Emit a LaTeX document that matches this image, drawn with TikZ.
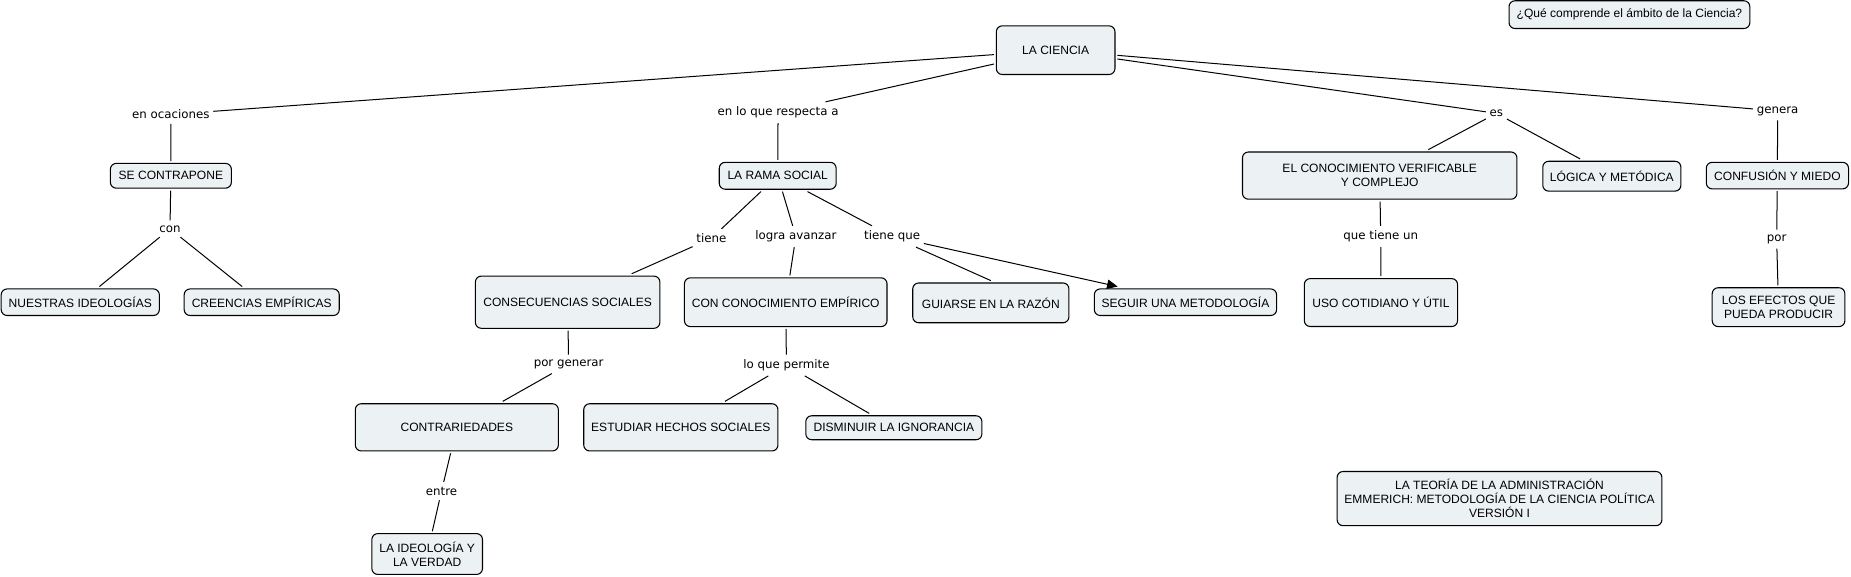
\documentclass[tikz,border=0pt]{standalone}
\usepackage{fontspec}
\setmainfont{Liberation Sans}
\newfontfamily\linkfont{DejaVu Sans}
\usetikzlibrary{arrows.meta}
\definecolor{cfill}{HTML}{ECF2F4}
\tikzset{
  concept/.style={draw=black, line width=0.9pt, fill=cfill, rounded corners=5pt,
    inner sep=0pt, outer sep=2pt, align=center,
    font=\fontsize{10.2}{11.8}\selectfont},
  linkp/.style={inner xsep=3pt, inner ysep=4pt, font=\linkfont\fontsize{10}{12}\selectfont},
  conn/.style={line width=0.85pt},
  tip/.style={-{Triangle[length=9pt,width=8pt]}},
}
\begin{document}
\begin{tikzpicture}[x=1pt,y=-1pt]
\useasboundingbox (0,0) rectangle (1568,488);
% concepts
\node[concept, minimum width=100.5pt, minimum height=41.2pt] (ciencia) at (894.25,42.5) {LA CIENCIA};
\node[concept, minimum width=204pt, minimum height=23.5pt] (pregunta) at (1380.3,12.4) {¿Qué comprende el ámbito de la Ciencia?};
\node[concept, minimum width=102.5pt, minimum height=21pt] (secontra) at (144.75,148.9) {SE CONTRAPONE};
\node[concept, minimum width=134pt, minimum height=22.5pt] (nuestras) at (68,256) {NUESTRAS IDEOLOGÍAS};
\node[concept, minimum width=131.4pt, minimum height=22.5pt] (creencias) at (221.7,256) {CREENCIAS EMPÍRICAS};
\node[concept, minimum width=99pt, minimum height=22.8pt] (rama) at (658.8,148.9) {LA RAMA SOCIAL};
\node[concept, minimum width=156.3pt, minimum height=44.2pt] (consec) at (480.85,256) {CONSECUENCIAS SOCIALES};
\node[concept, minimum width=171.6pt, minimum height=41.3pt] (conconoc) at (665.6,256) {CON CONOCIMIENTO EMPÍRICO};
\node[concept, minimum width=132.3pt, minimum height=33.7pt] (guiarse) at (839.35,256.55) {GUIARSE EN LA RAZÓN};
\node[concept, minimum width=154.4pt, minimum height=22.5pt] (seguir) at (1004.2,256) {SEGUIR UNA METODOLOGÍA};
\node[concept, minimum width=172pt, minimum height=40pt] (contra) at (387,362) {CONTRARIEDADES};
\node[concept, minimum width=164.5pt, minimum height=40pt] (estudiar) at (576.75,362) {ESTUDIAR HECHOS SOCIALES};
\node[concept, minimum width=149.2pt, minimum height=20.3pt] (disminuir) at (757.2,362.35) {DISMINUIR LA IGNORANCIA};
\node[concept, minimum width=93.7pt, minimum height=34.6pt] (ideologia) at (361.85,469.3) {LA IDEOLOGÍA Y\\LA VERDAD};
\node[concept, minimum width=232.5pt, minimum height=40pt] (elconoc) at (1168.75,148.75) {EL CONOCIMIENTO VERIFICABLE\\Y COMPLEJO};
\node[concept, minimum width=117pt, minimum height=25.3pt] (logica) at (1365.4,149.25) {LÓGICA Y METÓDICA};
\node[concept, minimum width=120.5pt, minimum height=22.5pt] (confusion) at (1505.65,148.75) {CONFUSIÓN Y MIEDO};
\node[concept, minimum width=129.8pt, minimum height=40.6pt] (uso) at (1169.8,256.3) {USO COTIDIANO Y ÚTIL};
\node[concept, minimum width=112.4pt, minimum height=32.9pt] (efectos) at (1506.6,260.2) {LOS EFECTOS QUE\\PUEDA PRODUCIR};
\node[concept, minimum width=275.1pt, minimum height=45.9pt] (teoria) at (1270.25,422.35) {LA TEORÍA DE LA ADMINISTRACIÓN\\EMMERICH: METODOLOGÍA DE LA CIENCIA POLÍTICA\\VERSIÓN I};
% linking phrases
\node[linkp] (enoc) at (144.7,96.9) {en ocaciones};
\node[linkp] (con) at (144,193.8) {con};
\node[linkp] (enlo) at (659.1,95.3) {en lo que respecta a};
\node[linkp] (tiene) at (602.6,201.9) {tiene};
\node[linkp] (logra) at (674.2,200.3) {logra avanzar};
\node[linkp] (tieneque) at (755.7,200.3) {tiene que};
\node[linkp] (porgen) at (481.7,308.4) {por generar};
\node[linkp] (loqueperm) at (666.2,309.4) {lo que permite};
\node[linkp] (entre) at (374,416) {entre};
\node[linkp] (es) at (1267.6,96) {es};
\node[linkp] (genera) at (1505.8,94) {genera};
\node[linkp] (quetiene) at (1169.6,200.3) {que tiene un};
\node[linkp] (por) at (1505,202.5) {por};
% connectors
\draw[conn] (ciencia) -- (enoc);
\draw[conn] (enoc) -- (secontra);
\draw[conn] (secontra) -- (con);
\draw[conn] (con) -- (nuestras);
\draw[conn] (con) -- (creencias);
\draw[conn] (ciencia) -- (enlo);
\draw[conn] (enlo) -- (rama);
\draw[conn] (rama) -- (tiene);
\draw[conn] (tiene) -- (consec);
\draw[conn] (rama) -- (logra);
\draw[conn] (logra) -- (conconoc);
\draw[conn] (rama) -- (tieneque);
\draw[conn] (tieneque) -- (guiarse.north);
\draw[conn, tip] (tieneque) -- (seguir.167);
\draw[conn] (consec) -- (porgen);
\draw[conn] (porgen) -- (contra);
\draw[conn] (contra) -- (entre);
\draw[conn] (entre) -- (ideologia);
\draw[conn] (conconoc) -- (loqueperm);
\draw[conn] (loqueperm) -- (estudiar);
\draw[conn] (loqueperm) -- (disminuir);
\draw[conn] (ciencia) -- (es);
\draw[conn] (es) -- (elconoc);
\draw[conn] (es) -- (logica);
\draw[conn] (elconoc) -- (quetiene);
\draw[conn] (quetiene) -- (uso);
\draw[conn] (ciencia) -- (genera);
\draw[conn] (genera) -- (confusion);
\draw[conn] (confusion) -- (por);
\draw[conn] (por) -- (efectos);
\end{tikzpicture}
\end{document}
